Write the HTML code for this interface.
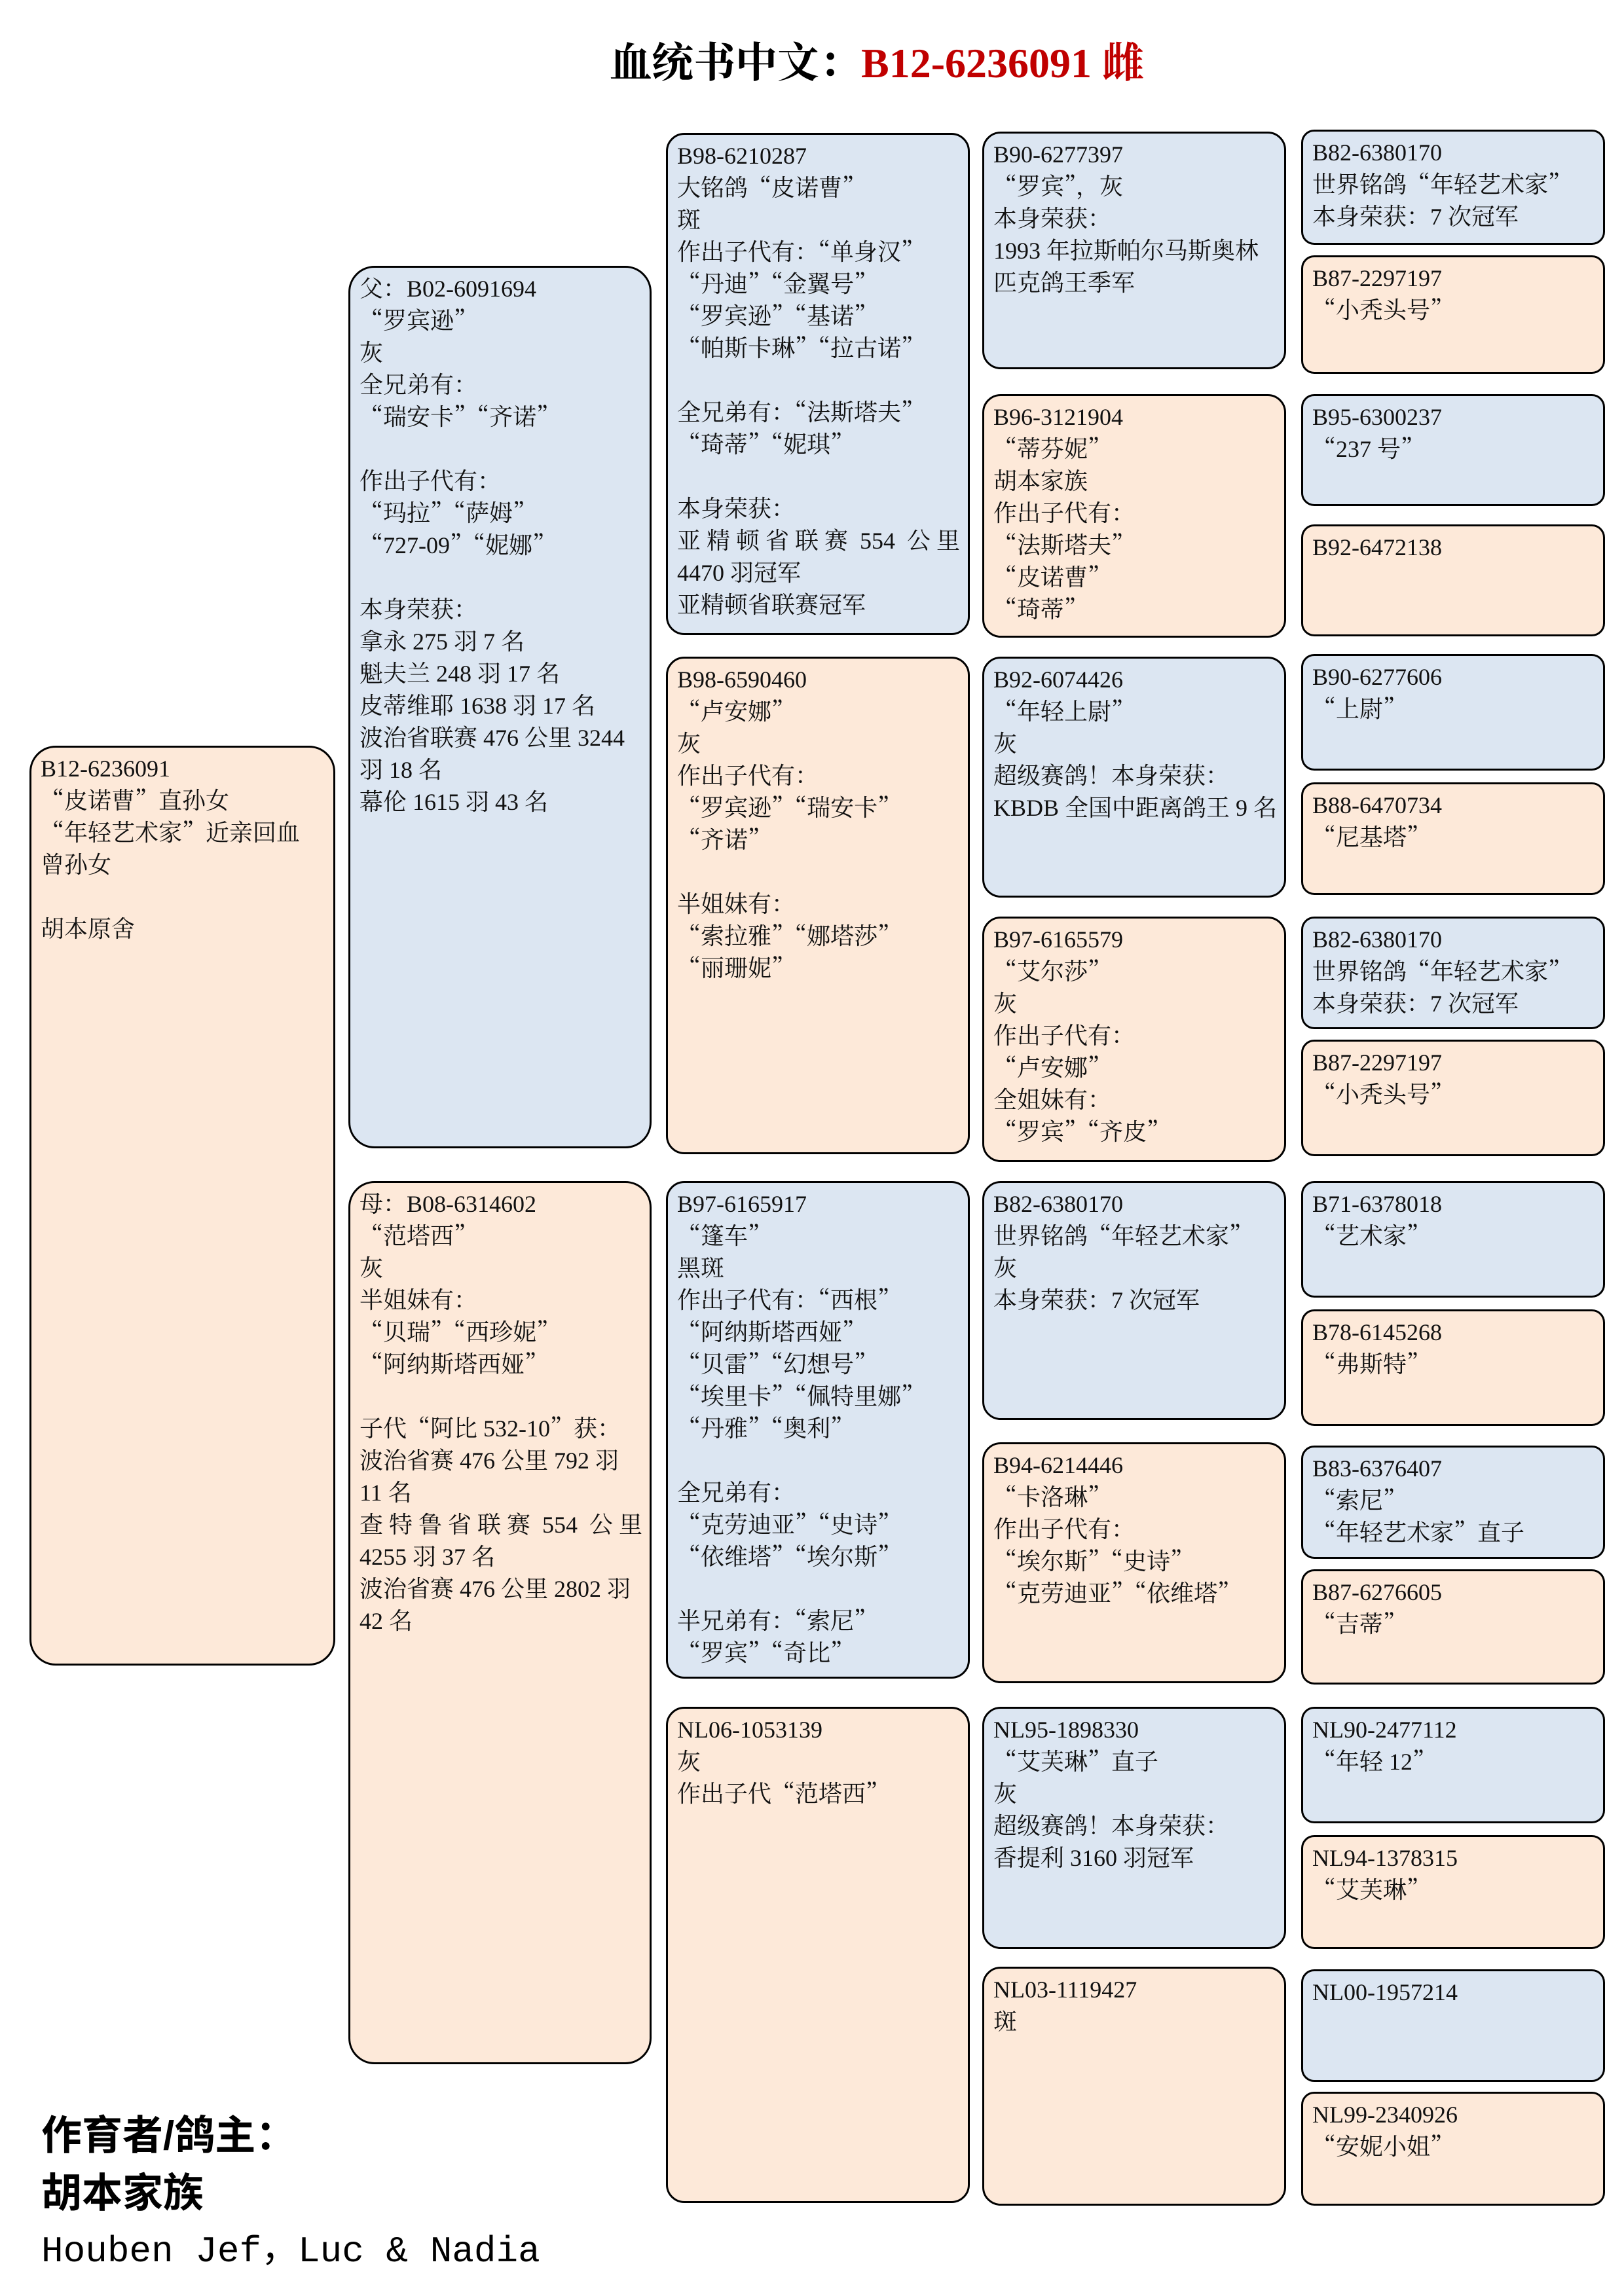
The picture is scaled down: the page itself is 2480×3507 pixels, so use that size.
<!DOCTYPE html>
<html><head><meta charset="utf-8"><style>
html,body{margin:0;padding:0;background:#fff;}
body{width:2480px;height:3507px;position:relative;overflow:hidden;}
.b{position:absolute;box-sizing:border-box;border:3px solid #000;border-radius:28px;padding:8px 12px 0 14px;font-family:"Liberation Serif","Noto Serif CJK SC",serif;font-size:36px;line-height:49px;white-space:pre;color:#111;overflow:hidden;}
.q{font-family:"Noto Serif CJK SC",serif;line-height:0;}
.u{background:#dce6f2;}
.p{background:#fde9d9;}
.big{border-radius:40px;}
#t{position:absolute;left:931px;top:55px;font-family:"Liberation Serif","Noto Serif CJK SC",serif;font-size:64px;line-height:84px;font-weight:bold;white-space:nowrap;}
#t .r{color:#c00000;}
.f{position:absolute;left:63px;font-family:"Liberation Sans","Noto Sans CJK SC",sans-serif;font-size:62px;font-weight:bold;line-height:88px;white-space:nowrap;}
</style></head><body>
<div id="t">血统书中文：<span class="r">B12-6236091 雌</span></div>

<div class="b p big" style="left:45px;top:1139px;width:467px;height:1405px">B12-6236091
“皮诺曹”直孙女
“年轻艺术家”近亲回血
曾孙女

胡本原舍</div>

<div class="b u big" style="left:532px;top:406px;width:463px;height:1348px">父：B02-6091694
“罗宾逊”
灰
全兄弟有：
“瑞安卡”“齐诺”

作出子代有：
“玛拉”“萨姆”
“727-09”“妮娜”

本身荣获：
拿永 275 羽 7 名
魁夫兰 248 羽 17 名
皮蒂维耶 1638 羽 17 名
波治省联赛 476 公里 3244
羽 18 名
幕伦 1615 羽 43 名</div>

<div class="b p big" style="left:532px;top:1804px;width:463px;height:1349px">母：B08-6314602
“范塔西”
灰
半姐妹有：
“贝瑞”“西珍妮”
“阿纳斯塔西娅”

子代“阿比 532-10”获：
波治省赛 476 公里 792 羽
11 名
查 特 鲁 省 联 赛  554  公 里
4255 羽 37 名
波治省赛 476 公里 2802 羽
42 名</div>

<div class="b u" style="left:1017px;top:203px;width:464px;height:767px">B98-6210287
大铭鸽“皮诺曹”
斑
作出子代有：“单身汉”
“丹迪”“金翼号”
“罗宾逊”“基诺”
“帕斯卡琳”“拉古诺”

全兄弟有：“法斯塔夫”
“琦蒂”“妮琪”

本身荣获：
亚 精 顿 省 联 赛  554  公 里
4470 羽冠军
亚精顿省联赛冠军</div>

<div class="b p" style="left:1017px;top:1003px;width:464px;height:760px">B98-6590460
“卢安娜”
灰
作出子代有：
“罗宾逊”“瑞安卡”
“齐诺”

半姐妹有：
“索拉雅”“娜塔莎”
“丽珊妮”</div>

<div class="b u" style="left:1017px;top:1804px;width:464px;height:760px">B97-6165917
“篷车”
黑斑
作出子代有：“西根”
“阿纳斯塔西娅”
“贝雷”“幻想号”
“埃里卡”“佩特里娜”
“丹雅”“奥利”

全兄弟有：
“克劳迪亚”“史诗”
“依维塔”“埃尔斯”

半兄弟有：“索尼”
“罗宾”“奇比”</div>

<div class="b p" style="left:1017px;top:2607px;width:464px;height:758px">NL06-1053139
灰
作出子代“范塔西”</div>

<div class="b u" style="left:1500px;top:201px;width:464px;height:363px">B90-6277397
“罗宾”，灰
本身荣获：
1993 年拉斯帕尔马斯奥林
匹克鸽王季军</div>
<div class="b p" style="left:1500px;top:602px;width:464px;height:372px">B96-3121904
“蒂芬妮”
胡本家族
作出子代有：
“法斯塔夫”
“皮诺曹”
“琦蒂”</div>
<div class="b u" style="left:1500px;top:1003px;width:464px;height:368px">B92-6074426
“年轻上尉”
灰
超级赛鸽！本身荣获：
KBDB 全国中距离鸽王 9 名</div>
<div class="b p" style="left:1500px;top:1400px;width:464px;height:375px">B97-6165579
“艾尔莎”
灰
作出子代有：
“卢安娜”
全姐妹有：
“罗宾”“齐皮”</div>
<div class="b u" style="left:1500px;top:1804px;width:464px;height:365px">B82-6380170
世界铭鸽“年轻艺术家”
灰
本身荣获：7 次冠军</div>
<div class="b p" style="left:1500px;top:2203px;width:464px;height:368px">B94-6214446
“卡洛琳”
作出子代有：
“埃尔斯”“史诗”
“克劳迪亚”“依维塔”</div>
<div class="b u" style="left:1500px;top:2607px;width:464px;height:370px">NL95-1898330
“艾芙琳”直子
灰
超级赛鸽！本身荣获：
香提利 3160 羽冠军</div>
<div class="b p" style="left:1500px;top:3004px;width:464px;height:365px">NL03-1119427
斑</div>

<div class="b u" style="left:1987px;top:198px;width:464px;height:176px;border-radius:20px">B82-6380170
世界铭鸽“年轻艺术家”
本身荣获：7 次冠军</div>
<div class="b p" style="left:1987px;top:390px;width:464px;height:181px;border-radius:20px">B87-2297197
“小秃头号”</div>
<div class="b u" style="left:1987px;top:602px;width:464px;height:171px;border-radius:20px">B95-6300237
“237 号”</div>
<div class="b p" style="left:1987px;top:801px;width:464px;height:171px;border-radius:20px">B92-6472138</div>
<div class="b u" style="left:1987px;top:999px;width:464px;height:178px;border-radius:20px">B90-6277606
“上尉”</div>
<div class="b p" style="left:1987px;top:1195px;width:464px;height:172px;border-radius:20px">B88-6470734
“尼基塔”</div>
<div class="b u" style="left:1987px;top:1400px;width:464px;height:172px;border-radius:20px">B82-6380170
世界铭鸽“年轻艺术家”
本身荣获：7 次冠军</div>
<div class="b p" style="left:1987px;top:1588px;width:464px;height:178px;border-radius:20px">B87-2297197
“小秃头号”</div>
<div class="b u" style="left:1987px;top:1804px;width:464px;height:178px;border-radius:20px">B71-6378018
“艺术家”</div>
<div class="b p" style="left:1987px;top:2000px;width:464px;height:178px;border-radius:20px">B78-6145268
“弗斯特”</div>
<div class="b u" style="left:1987px;top:2208px;width:464px;height:173px;border-radius:20px">B83-6376407
“索尼”
“年轻艺术家”直子</div>
<div class="b p" style="left:1987px;top:2397px;width:464px;height:176px;border-radius:20px">B87-6276605
“吉蒂”</div>
<div class="b u" style="left:1987px;top:2607px;width:464px;height:178px;border-radius:20px">NL90-2477112
“年轻 12”</div>
<div class="b p" style="left:1987px;top:2803px;width:464px;height:174px;border-radius:20px">NL94-1378315
“艾芙琳”</div>
<div class="b u" style="left:1987px;top:3008px;width:464px;height:172px;border-radius:20px">NL00-1957214</div>
<div class="b p" style="left:1987px;top:3195px;width:464px;height:174px;border-radius:20px">NL99-2340926
“安妮小姐”</div>

<div class="f" style="top:3219px">作育者/鸽主：</div>
<div class="f" style="top:3307px">胡本家族</div>
<div class="f" style="top:3395px;font-family:'Liberation Mono','Noto Sans CJK SC',monospace;font-size:56px;font-weight:normal;">Houben Jef，Luc &amp; Nadia</div>
<script>
document.querySelectorAll('.b').forEach(function(e){
  e.innerHTML=e.innerHTML.replace(/([“”])/g,'<span class="q">$1</span>');
});
</script>
</body></html>
